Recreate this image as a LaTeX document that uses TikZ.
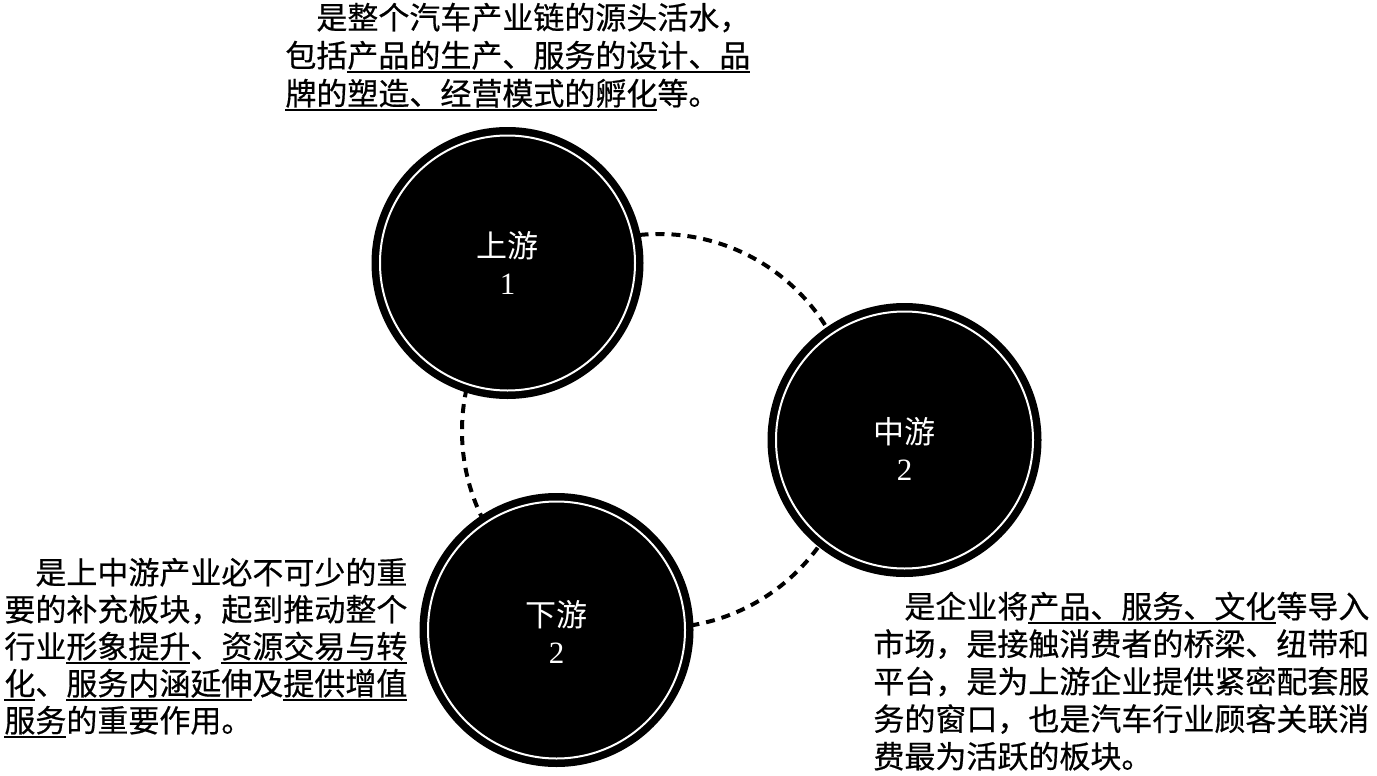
\documentclass[tikz,border=0pt]{standalone}
\usepackage{fontspec}
\setmainfont{Liberation Serif}
\newfontfamily\cjk{Noto Sans CJK SC}[FakeBold=0.5]
\newfontfamily\cjklight{Noto Sans CJK SC}
\newsavebox\ulbox
\newcommand\ulx[1]{\sbox\ulbox{#1}\rlap{\rule[-3pt]{\wd\ulbox}{1pt}}\usebox\ulbox}
\begin{document}
\begin{tikzpicture}[x=0.5pt,y=-0.5pt,
  txt/.style={anchor=base west, inner sep=0pt, font=\cjk\fontsize{15.5}{18.75}\selectfont},
  ball/.style={circle, fill=black, draw=none, inner sep=0pt, minimum size=#1,
    path picture={\draw[white, line width=1pt] (path picture bounding box.center) circle[radius=0.5*#1-4.25pt];}},
  lbl/.style={text=white, align=center, inner sep=0pt, font=\fontsize{15.5}{18.5}\selectfont},
  ring/.style={draw=black, line width=2pt, dash pattern=on 4.5pt off 3.5pt}
]
\useasboundingbox[fill=white] (0,0) rectangle (1377,776);
% dashed ring linking the three stages
\coordinate (ringc) at (659,431);
\draw[ring] (ringc) circle[radius=98.5pt];
% stages
\node[ball=136pt, label={[lbl]center:{\cjklight 上游}\\1}] (up) at (507.5,263) {};
\node[ball=137pt, label={[lbl, yshift=-4.5pt]center:{\cjklight 中游}\\2}] (mid) at (904.5,440) {};
\node[ball=137pt, label={[lbl, yshift=-1pt]center:{\cjklight 下游}\\2}] (down) at (556.5,630) {};
% texts
\foreach \t [count=\i] in {{\quad 是整个汽车产业链的源头活水，},
  {包括\ulx{产品的生产、服务的设计、品}},
  {\ulx{牌的塑造、经营模式的孵化}等。}}
  \node[txt] (top\i) at (285,{29+(\i-1)*38}) {\t};
\foreach \t [count=\i] in {{\quad 是上中游产业必不可少的重},
  {要的补充板块，起到推动整个},
  {行业\ulx{形象提升}、\ulx{资源交易与转}},
  {\ulx{化}、\ulx{服务内涵延伸}及\ulx{提供增值}},
  {\ulx{服务}的重要作用。}}
  \node[txt] (left\i) at (4,{584+(\i-1)*37}) {\t};
\foreach \t [count=\i] in {{\quad 是企业将\ulx{产品、服务、文化}等导入},
  {市场，是接触消费者的桥梁、纽带和},
  {平台，是为上游企业提供紧密配套服},
  {务的窗口，也是汽车行业顾客关联消},
  {费最为活跃的板块。}}
  \node[txt] (right\i) at (873,{618+(\i-1)*37.5}) {\t};
\end{tikzpicture}
\end{document}
